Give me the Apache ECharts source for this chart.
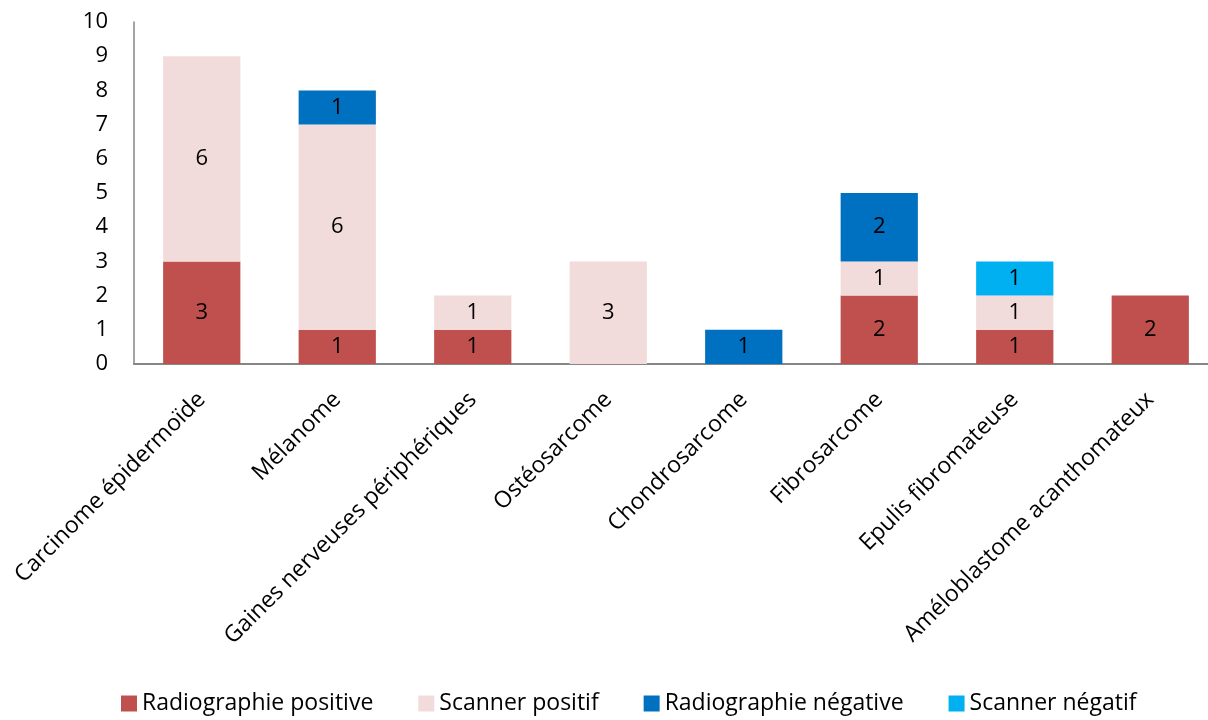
<!DOCTYPE html>
<html>
<head>
<meta charset="utf-8">
<script src="https://cdn.jsdelivr.net/npm/echarts@6/dist/echarts.min.js"></script>
<style>
  html, body { margin: 0; padding: 0; background: #fff; overflow: hidden; }
  /* the plot runs slightly past the right edge of the window */
  #chart { width: 1218px; height: 720px; }
</style>
</head>
<body>
<div id="chart"></div>
<script>
// Tumour types and the imaging results counted for each
const categories = [
  'Carcinome épidermoïde',
  'Mélanome',
  'Gaines nerveuses périphériques',
  'Ostéosarcome',
  'Chondrosarcome',
  'Fibrosarcome',
  'Epulis fibromateuse',
  'Améloblastome acanthomateux'
];
const radioPositive = [3, 1, 1, 0, 0, 2, 1, 2];
const scannerPositive = [6, 6, 1, 3, 0, 1, 1, 0];
const radioNegative = [0, 1, 0, 0, 1, 2, 0, 0];
const scannerNegative = [0, 0, 0, 0, 0, 0, 1, 0];
const yTicks = [0, 1, 2, 3, 4, 5, 6, 7, 8, 9, 10];

const FONT = '"Open Sans", "Noto Sans", sans-serif';

function stackSeries(name, data, color) {
  return {
    name: name,
    type: 'bar',
    stack: 'total',
    data: data,
    barCategoryGap: '43%',
    itemStyle: { color: color },
    label: {
      show: true,
      position: 'inside',
      color: '#000',
      fontFamily: FONT,
      fontSize: 22,
      formatter: p => (p.value ? String(p.value) : '')
    }
  };
}

const chart = echarts.init(document.getElementById('chart'), null, { renderer: 'canvas' });
chart.setOption({
  animation: false,
  textStyle: { fontFamily: FONT },
  grid: { left: 134, right: 0, top: 22, bottom: 356, containLabel: false },
  legend: {
    bottom: 0,
    left: 116,
    itemWidth: 16,
    itemHeight: 16,
    itemGap: 45,
    icon: 'rect',
    textStyle: { fontFamily: FONT, fontSize: 23, color: '#000' },
    data: ['Radiographie positive', 'Scanner positif', 'Radiographie négative', 'Scanner négatif']
  },
  xAxis: {
    type: 'category',
    data: categories,
    axisLine: { lineStyle: { color: '#868686', width: 2 } },
    axisTick: { show: false },
    axisLabel: {
      interval: 0,
      rotate: 45,
      margin: 32,
      color: '#000',
      fontFamily: FONT,
      fontSize: 23
    }
  },
  yAxis: {
    type: 'value',
    min: yTicks[0],
    max: yTicks[yTicks.length - 1],
    interval: 1,
    splitLine: { show: false },
    axisLine: { show: true, lineStyle: { color: '#868686', width: 1.5 } },
    axisTick: { show: false },
    axisLabel: { margin: 26, color: '#000', fontFamily: FONT, fontSize: 22 }
  },
  series: [
    stackSeries('Radiographie positive', radioPositive, '#C0504D'),
    stackSeries('Scanner positif', scannerPositive, '#F2DCDB'),
    stackSeries('Radiographie négative', radioNegative, '#0070C0'),
    stackSeries('Scanner négatif', scannerNegative, '#00B0F0')
  ]
});
</script>
</body>
</html>
